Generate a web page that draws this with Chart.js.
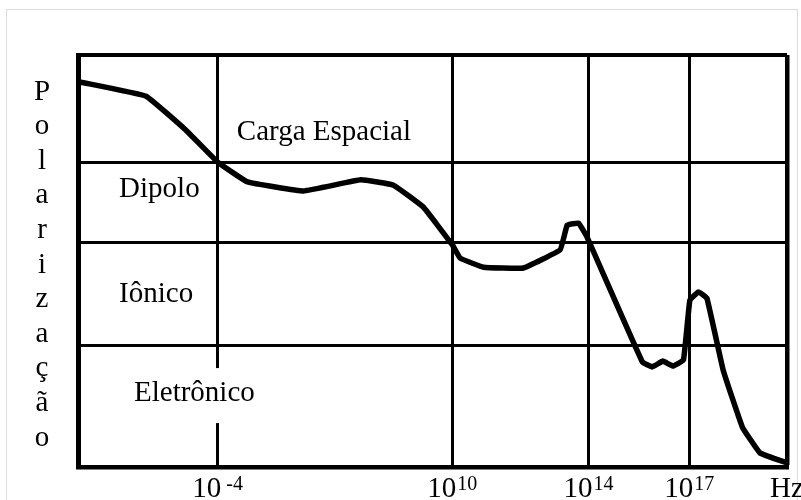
<!DOCTYPE html>
<html>
<head>
<meta charset="utf-8">
<script src="https://cdn.jsdelivr.net/npm/chart.js@4.4.1/dist/chart.umd.min.js"></script>
<style>
  html, body { margin: 0; padding: 0; background: #fff; }
  #wrap { position: relative; width: 801px; height: 500px; overflow: hidden; }
  #frame { position: absolute; left: 6px; top: 9px; width: 790px; height: 520px; border: 1.5px solid #dcdce0; }
  #chart { position: absolute; left: 0; top: 0; }
</style>
</head>
<body>
<div id="wrap">
  <div id="frame"></div>
  <canvas id="chart" width="801" height="500"></canvas>
</div>
<script>
// frequency position along the (non-uniform) log axis, 0..100
const freqPos = [0.4, 9.6, 15.2, 19.7, 23.9, 31.8, 39.9, 44.5, 48.7, 52.8, 53.9, 57.2, 62.8,
  68.0, 69.0, 70.6, 71.8, 79.6, 81.0, 82.5, 83.9, 85.4, 86.3, 87.5, 88.7, 91.0, 93.7, 96.2, 100];
// polarization level, 0..100
const polarization = [93.4, 90.0, 81.8, 74.0, 69.2, 67.0, 69.7, 68.4, 63.1, 53.9, 50.7, 48.5, 48.3,
  52.7, 58.7, 59.2, 55.8, 25.5, 24.3, 25.7, 24.5, 26.0, 40.5, 42.5, 41.0, 23.5, 9.7, 3.4, 1.0];

// x ticks: 10^-4, 10^10, 10^14, 10^17, Hz
const tickPos = [0, 19.7, 52.8, 72.0, 86.2, 100];
const tickBase = ['', '10', '10', '10', '10', 'Hz'];
const tickExp = ['', '-4', '10', '14', '17', ''];

// horizontal boundaries between mechanisms
const levelPos = [0, 29.6, 54.4, 74.0, 100];

// region names and where they sit (left x, baseline y)
const regionNames = ['Carga Espacial', 'Dipolo', 'Iônico', 'Eletrônico'];
const regionX = [22.4, 5.8, 5.8, 7.9];
const regionY = [79.4, 65.5, 40.0, 16.0];

const yTitle = 'Polarização';

const FONT = '"Liberation Serif", "Times New Roman", serif';

const labelsPlugin = {
  id: 'labels',
  afterDraw(chart) {
    const ctx = chart.ctx;
    const xs = chart.scales.x;
    const ys = chart.scales.y;
    const area = chart.chartArea;
    ctx.save();
    ctx.fillStyle = '#000';

    // region names (Eletrônico cuts through the 10^-4 line)
    ctx.font = '29px ' + FONT;
    ctx.textBaseline = 'alphabetic';
    ctx.textAlign = 'left';
    regionNames.forEach((name, i) => {
      const px = xs.getPixelForValue(regionX[i]);
      const py = ys.getPixelForValue(regionY[i]);
      if (i === 3) {
        const w = ctx.measureText(name).width;
        ctx.fillStyle = '#fff';
        ctx.fillRect(px - 2, py - 33, w + 4, 55);
        ctx.fillStyle = '#000';
      }
      ctx.fillText(name, px, py);
    });

    // x tick labels with superscript exponents
    const base = area.bottom + 30;
    tickPos.forEach((v, i) => {
      if (!tickBase[i]) return;
      const gx = xs.getPixelForValue(v);
      const gap = tickExp[i].startsWith('-') ? 5 : 1;
      ctx.font = '29px ' + FONT;
      const w1 = ctx.measureText(tickBase[i]).width;
      ctx.font = '20px ' + FONT;
      const w2 = tickExp[i] ? ctx.measureText(tickExp[i]).width + gap : 0;
      const start = gx - (w1 + w2) / 2;
      ctx.font = '29px ' + FONT;
      ctx.fillText(tickBase[i], start, base);
      if (tickExp[i]) {
        ctx.font = '20px ' + FONT;
        ctx.fillText(tickExp[i], start + w1 + gap, base - 7);
      }
    });

    // stacked vertical title
    ctx.font = '29px ' + FONT;
    ctx.textAlign = 'center';
    ctx.textBaseline = 'middle';
    const letters = Array.from(yTitle);
    const step = 34.6;
    const mid = (area.top + area.bottom) / 2 + 4;
    letters.forEach((ch, i) => {
      ctx.fillText(ch, 42, mid + (i - (letters.length - 1) / 2) * step);
    });
    ctx.restore();
  }
};

const ctx = document.getElementById('chart').getContext('2d');
new Chart(ctx, {
  type: 'line',
  data: {
    datasets: [{
      data: freqPos.map((x, i) => ({ x: x, y: polarization[i] })),
      borderColor: '#000',
      borderWidth: 5.5,
      pointRadius: 0,
      tension: 0.08,
      borderJoinStyle: 'round',
      borderCapStyle: 'round',
      fill: false
    }]
  },
  options: {
    responsive: false,
    animation: false,
    layout: { padding: { left: 78, top: 55, right: 14, bottom: 33 } },
    plugins: { legend: { display: false }, tooltip: { enabled: false } },
    scales: {
      x: {
        type: 'linear',
        min: 0,
        max: 100,
        afterBuildTicks: (scale) => { scale.ticks = tickPos.map(v => ({ value: v })); },
        ticks: { display: false },
        grid: {
          color: '#000',
          lineWidth: (c) => (c.tick && c.tick.value === 100 ? 4.5 : 3),
          drawTicks: false
        },
        border: { color: '#000', width: 4.5 }
      },
      y: {
        type: 'linear',
        min: 0,
        max: 100,
        afterBuildTicks: (scale) => { scale.ticks = levelPos.map(v => ({ value: v })); },
        ticks: { display: false },
        grid: {
          color: '#000',
          lineWidth: (c) => (c.tick && c.tick.value === 100 ? 4 : 3),
          drawTicks: false
        },
        border: { color: '#000', width: 5 }
      }
    }
  },
  plugins: [labelsPlugin]
});
</script>
</body>
</html>
